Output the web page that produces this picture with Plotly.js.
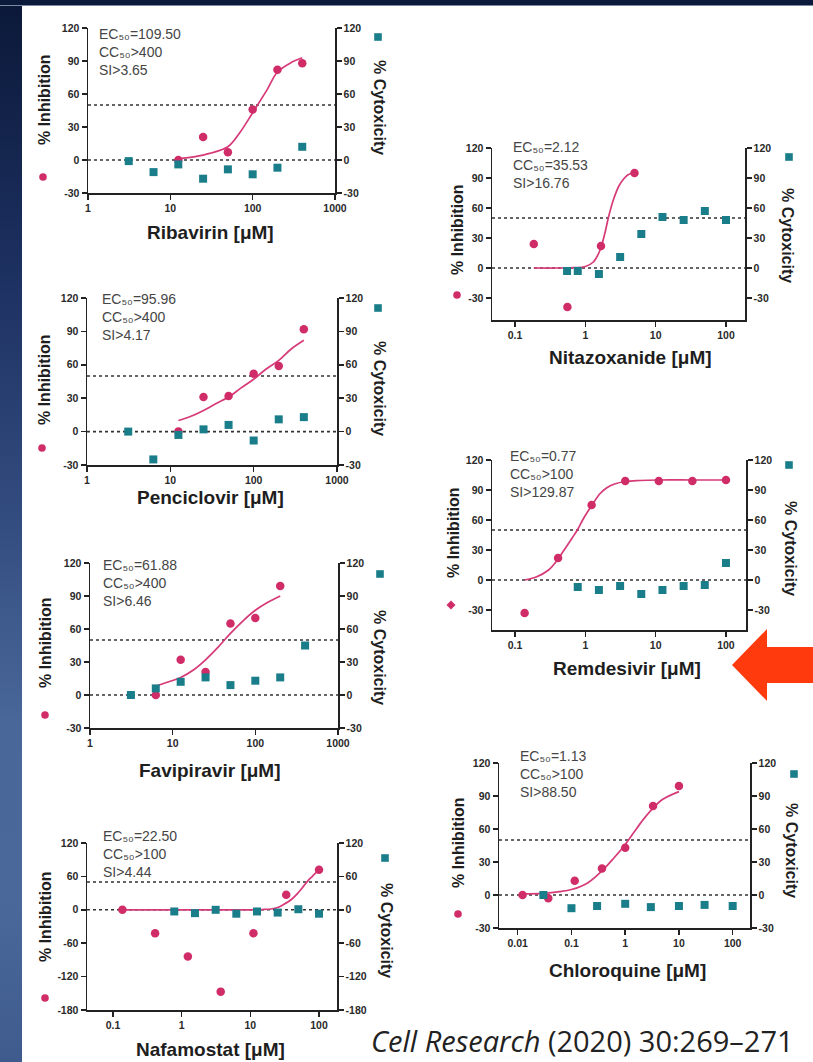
<!DOCTYPE html>
<html><head><meta charset="utf-8">
<script src="https://cdn.plot.ly/plotly-3.0.1.min.js"></script>
<style>
html,body{margin:0;padding:0;width:813px;height:1062px;overflow:hidden;}
body{background:linear-gradient(to bottom,#0b1838 0%,#1c3060 25%,#324b7e 48%,#4a6799 68%,#4b689a 85%,#3f5b8d 100%);position:relative;}
#topband{position:absolute;left:0;top:0;width:813px;height:5px;background:#0b1a3a;border-bottom:1px solid #7d8aa3;}
#sheet{position:absolute;left:22px;top:6px;width:791px;height:1056px;background:#ffffff;}
#plot{position:absolute;left:0;top:0;width:813px;height:1062px;}
</style></head>
<body>
<div id="topband"></div>
<div id="sheet"></div>
<div id="plot"></div>
<script>
// ---------------- DATA ----------------
const drugNames = ['Ribavirin','Nitazoxanide','Penciclovir','Remdesivir','Favipiravir','Chloroquine','Nafamostat'];
const statTexts = [
  'EC₅₀=109.50<br>CC₅₀&gt;400<br>SI&gt;3.65',
  'EC₅₀=2.12<br>CC₅₀=35.53<br>SI&gt;16.76',
  'EC₅₀=95.96<br>CC₅₀&gt;400<br>SI&gt;4.17',
  'EC₅₀=0.77<br>CC₅₀&gt;100<br>SI&gt;129.87',
  'EC₅₀=61.88<br>CC₅₀&gt;400<br>SI&gt;6.46',
  'EC₅₀=1.13<br>CC₅₀&gt;100<br>SI&gt;88.50',
  'EC₅₀=22.50<br>CC₅₀&gt;100<br>SI&gt;4.44'
];
const citationText = '<i>Cell Research</i> (2020) 30:269–271';

// Ribavirin
const ribaInhX = [12.5,25,50,100,200,400];
const ribaInh  = [0,21,7,46,82,88];
const ribaCytX = [3.125,6.25,12.5,25,50,100,200,400];
const ribaCyt  = [-1,-11,-4,-17,-8.5,-13,-7,12];
const ribaFitX = [12.5,20,30,50,70,100,150,200,300,400];
const ribaFitY = [1,3,6,12,25,43,64,80,89,93];

// Nitazoxanide
const nitaInhX = [0.185,0.556,1.67,5];
const nitaInh  = [24,-39,22,95];
const nitaCytX = [0.55,0.78,1.56,3.125,6.25,12.5,25,50,100];
const nitaCyt  = [-3,-3,-6,11,34,51,48,57,48];
const nitaFitX = [0.185,0.4,0.7,1.0,1.3,1.6,1.9,2.12,2.5,3.0,3.5,4.0,5.0];
const nitaFitY = [0,0,0.3,1.5,6,17,35,50,68,82,89,93,96];

// Penciclovir
const pencInhX = [12.5,25,50,100,200,400];
const pencInh  = [0,31,32,52,59,92];
const pencCytX = [3.125,6.25,12.5,25,50,100,200,400];
const pencCyt  = [0,-25,-3,2,6,-8,11,13];
const pencFitX = [12.5,18,25,35,50,70,100,140,200,280,400];
const pencFitY = [10,14,19,25,31,39,47,56,64,74,82];

// Remdesivir
const remdInhX = [0.137,0.41,1.23,3.7,11.1,33.3,100];
const remdInh  = [-33,22,75,99,99,99,100];
const remdCytX = [0.78,1.56,3.125,6.25,12.5,25,50,100];
const remdCyt  = [-7,-10,-6,-14,-10,-6,-5,17];
const remdFitX = [0.137,0.2,0.3,0.4,0.5,0.65,0.77,0.9,1.05,1.25,1.6,2,2.6,3.7,6,11.1,33.3,100];
const remdFitY = [0,3,10,20,30,42,50,59,67,75,86,92,96,98.5,99.5,100,100,100];

// Favipiravir
const faviInhX = [6.25,12.5,25,50,100,200];
const faviInh  = [0,32,21,65,70,99];
const faviCytX = [3.125,6.25,12.5,25,50,100,200,400];
const faviCyt  = [0,6,12,16,9,13,16,45];
const faviFitX = [6.25,9,12.5,18,25,35,50,70,100,140,200];
const faviFitY = [8,12,16,23,32,43,56,67,77,84,90];

// Chloroquine
const chloInhX = [0.0123,0.037,0.115,0.37,1.0,3.3,10];
const chloInh  = [0,-3,13,24,43,81,99];
const chloCytX = [0.03,0.1,0.3,1,3,10,30,100];
const chloCyt  = [0,-12,-10,-8,-11,-10,-9,-10];
const chloFitX = [0.0123,0.03,0.06,0.1,0.2,0.37,0.6,1.0,1.5,2.2,3.3,5,10];
const chloFitY = [1,1.5,3,5,11,22,33,46,58,69,79,87,94];

// Nafamostat
const nafaInhX = [0.137,0.41,1.23,3.7,11.1,33.3,100];
const nafaInh  = [0,-42,-84,-147,-42,27,72];
const nafaCytX = [0.78,1.56,3.125,6.25,12.5,25,50,100];
const nafaCyt  = [-3,-6,0,-7,-3,-5,1,-7];
const nafaFitX = [0.137,1,5,10,15,20,25,30,40,50,60,70,80,100];
const nafaFitY = [0,0,0,0,0.5,1.5,4,9,19,31,43,53,60,72];

// Tick labels
const ticks1to1000 = [1,10,100,1000];
const ticks1to1000Text = ['1','10','100','1000'];
const ticks01to100 = [0.1,1,10,100];
const ticks01to100Text = ['0.1','1','10','100'];
const ticks001to100 = [0.01,0.1,1,10,100];
const ticks001to100Text = ['0.01','0.1','1','10','100'];
const yTicksStd = [-30,0,30,60,90,120];
const yTicksNafa = [-180,-120,-60,0,60,120];

// ---------------- PANEL GEOMETRY / STYLE ----------------
const W = 813, H = 1062;
const PINK = '#d02d68', TEAL = '#1a7d8a', LINE = '#d63a78', AX = '#222222';
const panels = [
  {d:[ribaInhX,ribaInh,ribaCytX,ribaCyt,ribaFitX,ribaFitY], f:[88,335,28,193], xr:[0,3], yr:[-30,120], xt:ticks1to1000, xtt:ticks1to1000Text, yt:yTicksStd,
   lt:[45,100], rt:[380,107], xtl:[210,232], st:[97,24], pm:[43,177], tm:[378,37]},
  {d:[nitaInhX,nitaInh,nitaCytX,nitaCyt,nitaFitX,nitaFitY], f:[492,745,148,320], xr:[-1.327,2.27], yr:[-52,120], xt:ticks01to100, xtt:ticks01to100Text, yt:yTicksStd,
   lt:[457,230], rt:[787,235], xtl:[630,357], st:[511,137], pm:[457,295], tm:[789,157]},
  {d:[pencInhX,pencInh,pencCytX,pencCyt,pencFitX,pencFitY], f:[87,337,298,465], xr:[0,3], yr:[-30,120], xt:ticks1to1000, xtt:ticks1to1000Text, yt:yTicksStd,
   lt:[45,380], rt:[380,388], xtl:[210,497], st:[100,289], pm:[42,448], tm:[378,308]},
  {d:[remdInhX,remdInh,remdCytX,remdCyt,remdFitX,remdFitY], f:[492,746,460,630], xr:[-1.327,2.285], yr:[-50,120], xt:ticks01to100, xtt:ticks01to100Text, yt:yTicksStd,
   lt:[453,533], rt:[790,548], xtl:[627,668], st:[508,446], pm:[451,605], tm:[789,465], diamond:true},
  {d:[faviInhX,faviInh,faviCytX,faviCyt,faviFitX,faviFitY], f:[90,338,563,728], xr:[0,3], yr:[-30,120], xt:ticks1to1000, xtt:ticks1to1000Text, yt:yTicksStd,
   lt:[45,643], rt:[380,657], xtl:[210,770], st:[101,555], pm:[45,715], tm:[380,574]},
  {d:[chloInhX,chloInh,chloCytX,chloCyt,chloFitX,chloFitY], f:[499,750,763,928], xr:[-2.348,2.322], yr:[-30,120], xt:ticks001to100, xtt:ticks001to100Text, yt:yTicksStd,
   lt:[458,843], rt:[792,850], xtl:[627,970], st:[518,746], pm:[458,914], tm:[794,774]},
  {d:[nafaInhX,nafaInh,nafaCytX,nafaCyt,nafaFitX,nafaFitY], f:[87,337,843,1010], xr:[-1.379,2.262], yr:[-180,120], xt:ticks01to100, xtt:ticks01to100Text, yt:yTicksNafa,
   lt:[45,917], rt:[387,930], xtl:[210,1049], st:[101,826], pm:[45,998], tm:[385,858]}
];

const px = x => x / W;
const py = y => 1 - y / H;
const tickFont = {family:'Liberation Sans, Arial, sans-serif', size:10.5, color:'#2a2a2a', weight:'bold'};
const titleFont = {family:'Liberation Sans, Arial, sans-serif', size:16, color:'#1e1e1e', weight:'bold'};
const xTitleFont = {family:'Liberation Sans, Arial, sans-serif', size:19, color:'#1e1e1e', weight:'bold'};
const statFont = {family:'Liberation Sans, Arial, sans-serif', size:14, color:'#454545'};

const traces = [];
const layout = {
  width: W, height: H, margin:{l:0,r:0,t:0,b:0},
  paper_bgcolor:'rgba(0,0,0,0)', plot_bgcolor:'rgba(0,0,0,0)',
  showlegend:false, shapes:[], annotations:[]
};

panels.forEach((p, k) => {
  const i = k + 1;
  const xid = i === 1 ? 'x' : 'x' + i;
  const ylN = 2*i - 1, yrN = 2*i;
  const ylid = ylN === 1 ? 'y' : 'y' + ylN;
  const yrid = 'y' + yrN;
  const xkey = i === 1 ? 'xaxis' : 'xaxis' + i;
  const ylkey = ylN === 1 ? 'yaxis' : 'yaxis' + ylN;
  const yrkey = 'yaxis' + yrN;
  const [x0, x1, yT, yB] = p.f;
  const common = {showline:true, linecolor:AX, linewidth:1.5, ticks:'outside', ticklen:5, tickwidth:1.5, tickcolor:AX,
                  showgrid:false, zeroline:false, tickfont:tickFont, fixedrange:true};
  layout[xkey] = Object.assign({}, common, {type:'log', domain:[px(x0), px(x1)], range:p.xr, anchor:ylid,
                  tickmode:'array', tickvals:p.xt, ticktext:p.xtt});
  layout[ylkey] = Object.assign({}, common, {domain:[py(yB), py(yT)], range:p.yr, anchor:xid, side:'left',
                  tickmode:'array', tickvals:p.yt, ticktext:p.yt.map(String)});
  layout[yrkey] = Object.assign({}, common, {overlaying:ylid, range:p.yr, anchor:xid, side:'right',
                  tickmode:'array', tickvals:p.yt, ticktext:p.yt.map(String)});

  const [ix, iy, cx, cy, fx, fy] = p.d;
  traces.push({x:fx, y:fy, xaxis:xid, yaxis:ylid, type:'scatter', mode:'lines',
               line:{color:LINE, width:1.7, shape:'spline', smoothing:1}, hoverinfo:'skip'});
  traces.push({x:cx, y:cy, xaxis:xid, yaxis:yrid, type:'scatter', mode:'markers',
               marker:{symbol:'square', size:8, color:TEAL}});
  traces.push({x:ix, y:iy, xaxis:xid, yaxis:ylid, type:'scatter', mode:'markers',
               marker:{symbol:'circle', size:8.5, color:PINK}});

  // dotted reference lines at 50% and 0%
  [50, 0].forEach(v => layout.shapes.push({type:'line', xref:xid + ' domain', yref:ylid, x0:0, x1:1, y0:v, y1:v,
    line:{color:'#333', width:1.6, dash:'dot'}, layer:'below'}));

  // legend symbols next to axis titles
  const r = 3.8;
  if (p.diamond) {
    const [mx, my] = p.pm;
    layout.shapes.push({type:'path', xref:'paper', yref:'paper', fillcolor:PINK, line:{width:0},
      path:`M ${px(mx)} ${py(my-4.5)} L ${px(mx+4.5)} ${py(my)} L ${px(mx)} ${py(my+4.5)} L ${px(mx-4.5)} ${py(my)} Z`});
  } else {
    layout.shapes.push({type:'circle', xref:'paper', yref:'paper', fillcolor:PINK, line:{width:0},
      x0:px(p.pm[0]-r), x1:px(p.pm[0]+r), y0:py(p.pm[1]+r), y1:py(p.pm[1]-r)});
  }
  layout.shapes.push({type:'rect', xref:'paper', yref:'paper', fillcolor:TEAL, line:{width:0},
    x0:px(p.tm[0]-r), x1:px(p.tm[0]+r), y0:py(p.tm[1]+r), y1:py(p.tm[1]-r)});

  // axis titles
  layout.annotations.push({xref:'paper', yref:'paper', x:px(p.lt[0]), y:py(p.lt[1]), text:'% Inhibition',
    textangle:-90, showarrow:false, font:titleFont, xanchor:'center', yanchor:'middle'});
  layout.annotations.push({xref:'paper', yref:'paper', x:px(p.rt[0]), y:py(p.rt[1]), text:'% Cytoxicity',
    textangle:90, showarrow:false, font:titleFont, xanchor:'center', yanchor:'middle'});
  layout.annotations.push({xref:'paper', yref:'paper', x:px(p.xtl[0]), y:py(p.xtl[1]), text:drugNames[k] + ' [μM]',
    showarrow:false, font:xTitleFont, xanchor:'center', yanchor:'middle'});
  // stats
  layout.annotations.push({xref:'paper', yref:'paper', x:px(p.st[0]), y:py(p.st[1]), text:statTexts[k],
    showarrow:false, font:statFont, xanchor:'left', yanchor:'top', align:'left'});
});

// red arrow pointing at Remdesivir
const arrowPts = [[732,665],[767,629],[767,647],[815,647],[815,683],[767,683],[767,701]];
layout.shapes.push({type:'path', xref:'paper', yref:'paper', fillcolor:'#ff3a0c', line:{width:0},
  path:'M ' + arrowPts.map(q => px(q[0]) + ' ' + py(q[1])).join(' L ') + ' Z'});

// citation
layout.annotations.push({xref:'paper', yref:'paper', x:px(369), y:py(1040),
  text:citationText, showarrow:false, xanchor:'left', yanchor:'middle',
  font:{family:'Open Sans, sans-serif', size:29, color:'#222'}});

Plotly.newPlot('plot', traces, layout, {displayModeBar:false, staticPlot:true});
</script>
</body></html>
